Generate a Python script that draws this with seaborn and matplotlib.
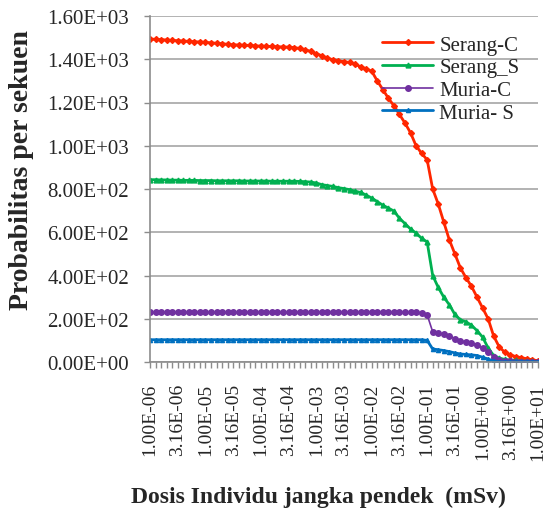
import numpy as np
import pandas as pd
import matplotlib
matplotlib.use("Agg")
import matplotlib.pyplot as plt
import seaborn as sns
from matplotlib.ticker import MultipleLocator

# Dose categories (10 per decade, 1E-06 ... 1E+01 mSv)
dose = [f"{10 ** (-6 + i / 10):.2E}" for i in range(71)]
x_tick_labels = ["1.00E-06", "3.16E-06", "1.00E-05", "3.16E-05", "1.00E-04",
                 "3.16E-04", "1.00E-03", "3.16E-03", "1.00E-02", "3.16E-02",
                 "1.00E-01", "3.16E-01", "1.00E+00", "3.16E+00", "1.00E+01"]
y_tick_labels = ["0.00E+00", "2.00E+02", "4.00E+02", "6.00E+02", "8.00E+02",
                 "1.00E+03", "1.20E+03", "1.40E+03", "1.60E+03"]

serang_c = [1494, 1492, 1491, 1489, 1487, 1486, 1484, 1483, 1481, 1480,
            1478, 1476, 1474, 1472, 1469, 1467, 1466, 1465, 1464, 1462,
            1461, 1460, 1459, 1458, 1457, 1456, 1454, 1450, 1444, 1436,
            1426, 1416, 1405, 1398, 1393, 1389, 1385, 1376, 1366, 1355,
            1345, 1300, 1260, 1220, 1185, 1145, 1105, 1060, 1000, 965,
            935, 800, 731, 647, 565, 500, 435, 390, 350, 300,
            250, 200, 120, 70, 45, 33, 25, 20, 15, 10, 6]
serang_s = [843, 843, 842, 842, 841, 841, 840, 840, 840, 839,
            839, 839, 838, 838, 838, 838, 838, 837, 837, 837,
            837, 837, 836, 836, 836, 836, 836, 835, 834, 832,
            828, 820, 816, 812, 806, 802, 797, 790, 784, 772,
            758, 742, 725, 712, 698, 665, 640, 615, 596, 572,
            555, 400, 345, 300, 265, 220, 195, 186, 170, 145,
            115, 65, 30, 18, 12, 9, 7, 5, 4, 3, 2]
muria_c = [229] * 49 + [225, 218, 140, 133, 128, 122, 108, 98, 92, 87, 78,
                        65, 45, 25, 8, 4, 3, 2, 2, 1, 1, 1]
muria_s = [103] * 50 + [100, 60, 57, 53, 48, 42, 37, 35, 33, 30,
                        22, 14, 4, 1, 1, 1, 1, 1, 1, 1, 1]

series_names = ["Serang-C", "Serang_S", "Muria-C", "Muria- S"]
series_vals = [serang_c, serang_s, muria_c, muria_s]
colors = ["#FF2600", "#00B050", "#7030A0", "#0070C0"]
markers = ["D", "^", "o", "^"]
msizes = [3, 3.5, 4, 3]
lws = [2.0, 2.0, 1.2, 2.0]

sns.set_theme(style="white")
plt.rcParams["font.family"] = ["Liberation Serif", "DejaVu Serif"]

fig = plt.figure(figsize=(5.47, 5.10), dpi=100)
ax = fig.add_axes([150 / 547, 1 - 363 / 510, 388 / 547, 346 / 510])

pos = np.arange(len(dose))
for name, vals, c, m, ms, lw in zip(series_names, series_vals, colors, markers, msizes, lws):
    df = pd.DataFrame({"pos": pos, "val": vals})
    sns.lineplot(data=df, x="pos", y="val", ax=ax, color=c, marker=m,
                 markersize=ms, markeredgecolor=c, markeredgewidth=1,
                 linewidth=lw, label=name)

ax.set_xlim(0, len(dose) - 1)
ax.set_ylim(0, 1600)
ax.set_yticks(np.arange(0, 1601, 200))
ax.set_yticklabels(y_tick_labels, fontsize=15)
ax.yaxis.grid(True, color="#A6A6A6", linewidth=1.2)
ax.xaxis.grid(False)

ax.set_xticks(np.arange(0, len(dose), 5))
ax.set_xticklabels(x_tick_labels, rotation=90, fontsize=14)
ax.xaxis.set_minor_locator(MultipleLocator(1))
ax.tick_params(axis="x", which="both", direction="out", length=4, width=1,
               color="#8C8C8C", bottom=True, pad=11)
ax.tick_params(axis="y", direction="out", length=4, width=1,
               color="#8C8C8C", left=True, pad=11)

for s in ["top", "right"]:
    ax.spines[s].set_visible(False)
for s in ["left", "bottom"]:
    ax.spines[s].set_color("#8C8C8C")
    ax.spines[s].set_linewidth(1.2)

ax.set_xlabel("Dosis Individu jangka pendek  (mSv)", fontsize=17,
              fontweight="bold")
ax.xaxis.set_label_coords(0.433, -0.358)
ax.set_ylabel("Probabilitas per sekuen", fontsize=20, fontweight="bold")
ax.yaxis.set_label_coords(-0.30, 0.558)

leg = ax.legend(loc="upper left", bbox_to_anchor=(0.598, 0.945), frameon=False,
                fontsize=15, handlelength=2.45, labelspacing=0.15,
                handletextpad=0.3, borderaxespad=0.0, borderpad=0.0)

fig.savefig("out.png", dpi=100)
